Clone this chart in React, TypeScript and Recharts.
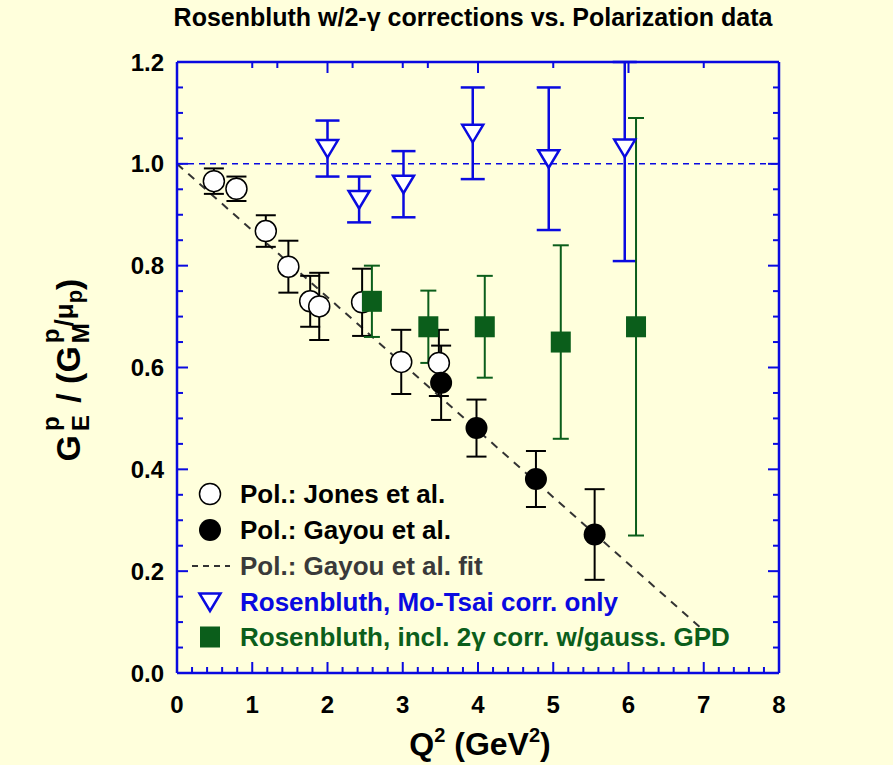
import React from 'react';
import { ComposedChart, Scatter, Line, XAxis, YAxis, ErrorBar, ReferenceLine } from 'recharts';

// Pol.: Jones et al.
const jonesQ2 = [0.49, 0.79, 1.18, 1.48, 1.77, 1.89, 2.46, 2.98, 3.48];
const jonesRatio = [0.966, 0.951, 0.868, 0.798, 0.73, 0.72, 0.728, 0.611, 0.609];
const jonesErr = [0.025, 0.024, 0.031, 0.051, 0.05, 0.066, 0.066, 0.063, 0.065];

// Pol.: Gayou et al.
const gayouQ2 = [3.51, 3.98, 4.77, 5.55];
const gayouRatio = [0.57, 0.481, 0.381, 0.272];
const gayouErr = [0.073, 0.056, 0.055, 0.089];

// Pol.: Gayou et al. fit
const fitQ2 = [0, 6.95];
const fitRatio = [1.0, 0.09];

// Rosenbluth, Mo-Tsai corr. only
const moTsaiQ2 = [2.0, 2.42, 3.01, 3.93, 4.94, 5.95];
const moTsaiRatio = [1.03, 0.93, 0.96, 1.06, 1.01, 1.031];
const moTsaiErrLow = [0.055, 0.045, 0.065, 0.09, 0.14, 0.222];
const moTsaiErrHigh = [0.055, 0.045, 0.065, 0.09, 0.14, 0.169];

// Rosenbluth, incl. 2γ corr. w/gauss. GPD
const twoGammaQ2 = [2.59, 3.34, 4.09, 5.1, 6.1];
const twoGammaRatio = [0.73, 0.68, 0.68, 0.65, 0.68];
const twoGammaErr = [0.07, 0.071, 0.1, 0.19, 0.41];

const xTickLabels = ['0', '1', '2', '3', '4', '5', '6', '7', '8'];
const yTickLabels = ['0.0', '0.2', '0.4', '0.6', '0.8', '1.0', '1.2'];

const legendNames = [
  'Pol.: Jones et al.',
  'Pol.: Gayou et al.',
  'Pol.: Gayou et al. fit',
  'Rosenbluth, Mo-Tsai corr. only',
  'Rosenbluth, incl. 2\u03b3 corr. w/gauss. GPD',
];

const BG = '#ffffdc';
const BLUE = '#0a0ae0';
const GREEN = '#0b5e1b';
const FONT = '"Liberation Sans", Arial, sans-serif';

const W = 893;
const H = 765;
const PLOT_LEFT = 177;
const PLOT_RIGHT = 779;
const PLOT_TOP = 62;
const PLOT_BOTTOM = 673;

const steps = (max: number, n: number) => Array.from({ length: n + 1 }, (_, i) => (i * max) / n);
const isMult = (v: number, m: number) => Math.abs(v / m - Math.round(v / m)) < 1e-6;

// bottom axis: minor every 0.2; top axis: minor every 1/3 (both drawn from one axis)
const xTicks = Array.from(new Set([...steps(8, 40), ...steps(8, 24)].map((v) => +v.toFixed(6)))).sort((a, b) => a - b);
const yTicks = steps(1.2, 24);

const jonesData = jonesQ2.map((q2, i) => ({ q2, r: jonesRatio[i], err: jonesErr[i] }));
const gayouData = gayouQ2.map((q2, i) => ({ q2, r: gayouRatio[i], err: gayouErr[i] }));
const fitData = fitQ2.map((q2, i) => ({ q2, r: fitRatio[i] }));
const moTsaiData = moTsaiQ2.map((q2, i) => ({ q2, r: moTsaiRatio[i], err: [moTsaiErrLow[i], moTsaiErrHigh[i]] }));
const twoGammaData = twoGammaQ2.map((q2, i) => ({ q2, r: twoGammaRatio[i], err: twoGammaErr[i] }));

const XTick = ({ x, payload }: any) => {
  const v = payload.value;
  const onBottom = isMult(v, 0.2);
  const onTop = isMult(v, 1 / 3);
  return (
    <g>
      {onBottom && (
        <line x1={x} x2={x} y1={PLOT_BOTTOM} y2={PLOT_BOTTOM - (isMult(v, 1) ? 11 : 6)} stroke={BLUE} strokeWidth={2} />
      )}
      {onTop && (
        <line x1={x} x2={x} y1={PLOT_TOP} y2={PLOT_TOP + (isMult(v, 2) ? 11 : 6)} stroke={BLUE} strokeWidth={2} />
      )}
      {isMult(v, 1) && (
        <text x={x} y={PLOT_BOTTOM + 40} textAnchor="middle" fontFamily={FONT} fontWeight="bold" fontSize={24} fill="#000">
          {xTickLabels[Math.round(v)]}
        </text>
      )}
    </g>
  );
};

const YTick = ({ y, payload }: any) => {
  const v = payload.value;
  const major = isMult(v, 0.2);
  const len = major ? 11 : 6;
  return (
    <g>
      <line x1={PLOT_LEFT} x2={PLOT_LEFT + len} y1={y} y2={y} stroke={BLUE} strokeWidth={2} />
      <line x1={PLOT_RIGHT} x2={PLOT_RIGHT - len} y1={y} y2={y} stroke={BLUE} strokeWidth={2} />
      {major && (
        <text x={PLOT_LEFT - 13} y={y + 8.5} textAnchor="end" fontFamily={FONT} fontWeight="bold" fontSize={24} fill="#000">
          {yTickLabels[Math.round(v / 0.2)]}
        </text>
      )}
    </g>
  );
};

const OpenCircle = ({ cx, cy }: any) => <circle cx={cx} cy={cy} r={10.5} fill="#fff" stroke="#000" strokeWidth={1.5} />;
const FilledCircle = ({ cx, cy }: any) => <circle cx={cx} cy={cy} r={11} fill="#000" />;
const DownTriangle = ({ cx, cy }: any) => (
  <polygon
    points={`${cx - 10.5},${cy - 8.5} ${cx + 10.5},${cy - 8.5} ${cx},${cy + 9}`}
    fill="#fff"
    stroke={BLUE}
    strokeWidth={2.5}
  />
);
const Square = ({ cx, cy }: any) => <rect x={cx - 10} y={cy - 10.5} width={20} height={21} fill={GREEN} />;

const legendRows = [494, 530, 566, 602, 637];
const legendColors = ['#000', '#000', '#3a3a3a', BLUE, GREEN];

const Overlay = () => (
  <svg width={W} height={H} style={{ position: 'absolute', left: 0, top: 0, pointerEvents: 'none' }}>
    <text x={473} y={26} textAnchor="middle" fontFamily={FONT} fontWeight="bold" fontSize={25} fill="#000">
      Rosenbluth w/2-{'\u03b3'} corrections vs. Polarization data
    </text>
    <text x={480} y={755} textAnchor="middle" fontFamily={FONT} fontWeight="bold" fontSize={32} fill="#000">
      Q<tspan fontSize={20} dy={-13}>2</tspan>
      <tspan dy={13}> (GeV</tspan>
      <tspan fontSize={20} dy={-13}>2</tspan>
      <tspan dy={13}>)</tspan>
    </text>
    <g transform="translate(80,370) rotate(-90)">
      <text x={0} y={0} textAnchor="middle" fontFamily={FONT} fontWeight="bold" fontSize={34} fill="#000">
        G<tspan fontSize={24} dx={4} dy={9}>E</tspan>
        <tspan fontSize={24} dx={-16} dy={-30}>p</tspan>
        <tspan dx={4} dy={21}> / (G</tspan>
        <tspan fontSize={24} dx={3} dy={9}>M</tspan>
        <tspan fontSize={24} dx={-20} dy={-30}>p</tspan>
        <tspan fontSize={26} dx={2} dy={14}>/{'\u03bc'}</tspan>
        <tspan fontSize={22} dy={9}>p</tspan>
        <tspan dy={-2}>)</tspan>
      </text>
    </g>
    {legendNames.map((name, i) => {
      const y = legendRows[i];
      let marker;
      if (i === 0) marker = <circle cx={210} cy={y} r={10.5} fill="#fff" stroke="#000" strokeWidth={1.5} />;
      else if (i === 1) marker = <circle cx={210} cy={y} r={11} fill="#000" />;
      else if (i === 2) marker = <line x1={192} x2={230} y1={y} y2={y} stroke="#333" strokeWidth={2} strokeDasharray="6 5" />;
      else if (i === 3) marker = <DownTriangle cx={210} cy={y} />;
      else marker = <Square cx={210} cy={y} />;
      return (
        <g key={name}>
          {marker}
          <text x={240} y={y + 9.3} fontFamily={FONT} fontWeight="bold" fontSize={26} fill={legendColors[i]}>
            {name}
          </text>
        </g>
      );
    })}
  </svg>
);

export default function App() {
  return (
    <div style={{ position: 'relative', width: W, height: H, background: BG, overflow: 'hidden' }}>
      <style>{'body{margin:0;}'}</style>
      <ComposedChart
        width={W}
        height={H}
        margin={{ top: PLOT_TOP, right: W - PLOT_RIGHT, bottom: 0, left: 0 }}
      >
        <XAxis
          type="number"
          dataKey="q2"
          domain={[0, 8]}
          allowDataOverflow
          ticks={xTicks}
          interval={0}
          height={H - PLOT_BOTTOM}
          tick={<XTick />}
          tickLine={false}
          axisLine={{ stroke: BLUE, strokeWidth: 2.5 }}
        />
        <YAxis
          type="number"
          dataKey="r"
          domain={[0, 1.2]}
          allowDataOverflow
          ticks={yTicks}
          interval={0}
          width={PLOT_LEFT}
          tick={<YTick />}
          tickLine={false}
          axisLine={{ stroke: BLUE, strokeWidth: 2.5 }}
        />
        <ReferenceLine y={1.2} stroke={BLUE} strokeWidth={2.5} />
        <ReferenceLine x={8} stroke={BLUE} strokeWidth={2.5} />
        <ReferenceLine y={1} stroke={BLUE} strokeWidth={1.5} strokeDasharray="6 5" />
        <Line
          data={fitData}
          dataKey="r"
          type="linear"
          stroke="#333"
          strokeWidth={2}
          strokeDasharray="8 7"
          dot={false}
          activeDot={false}
          isAnimationActive={false}
        />
        <Scatter data={jonesData} dataKey="r" shape={<OpenCircle />} isAnimationActive={false}>
          <ErrorBar dataKey="err" direction="y" width={10} stroke="#000" strokeWidth={2} isAnimationActive={false} />
        </Scatter>
        <Scatter data={gayouData} dataKey="r" shape={<FilledCircle />} isAnimationActive={false}>
          <ErrorBar dataKey="err" direction="y" width={10} stroke="#000" strokeWidth={2} isAnimationActive={false} />
        </Scatter>
        <Scatter data={moTsaiData} dataKey="r" shape={<DownTriangle />} isAnimationActive={false}>
          <ErrorBar dataKey="err" direction="y" width={12} stroke={BLUE} strokeWidth={2.5} isAnimationActive={false} />
        </Scatter>
        <Scatter data={twoGammaData} dataKey="r" shape={<Square />} isAnimationActive={false}>
          <ErrorBar dataKey="err" direction="y" width={8} stroke={GREEN} strokeWidth={2} isAnimationActive={false} />
        </Scatter>
      </ComposedChart>
      <Overlay />
    </div>
  );
}
